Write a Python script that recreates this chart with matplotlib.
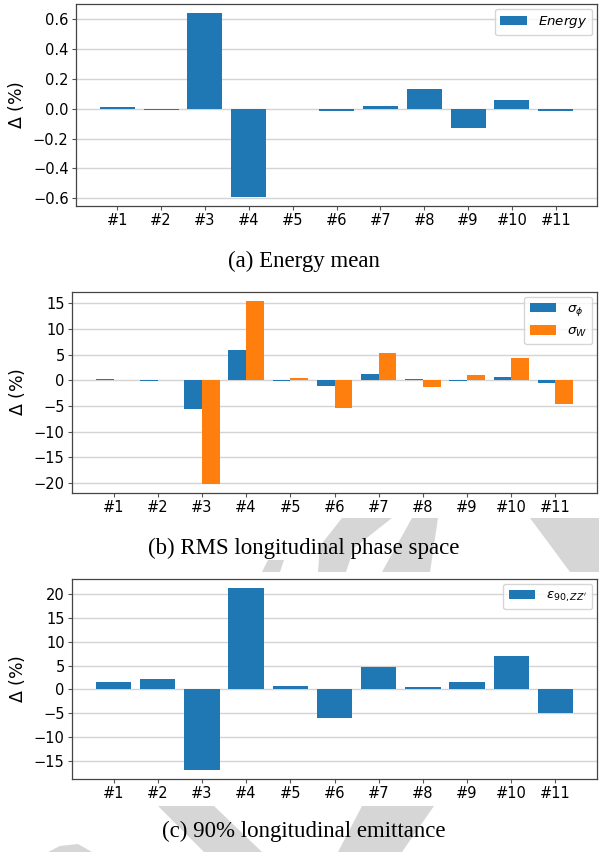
#!/usr/bin/env python3
"""
Relative deviation (Delta, %) of beam quantities for the 11 error cases:
energy mean, RMS longitudinal phase space and 90% longitudinal emittance.
Writes out.png.
"""

import matplotlib
matplotlib.use("Agg")
import matplotlib.pyplot as plt
from matplotlib.patches import Polygon
import numpy as np

# ---------------------------------------------------------------------------
# Data
# ---------------------------------------------------------------------------
runs = ["#1", "#2", "#3", "#4", "#5", "#6", "#7", "#8", "#9", "#10", "#11"]

energy_mean = [0.01, -0.01, 0.64, -0.59, 0.0, -0.018, 0.02, 0.133, -0.13,
               0.06, -0.018]

sigma_phi = [0.2, -0.05, -5.65, 5.9, -0.05, -1.04, 1.17, 0.25, -0.05,
             0.71, -0.52]
sigma_w = [0.0, 0.0, -20.2, 15.45, 0.45, -5.4, 5.3, -1.36, 1.04,
           4.35, -4.55]

emit_90 = [1.53, 2.2, -16.9, 21.3, 0.76, -6.04, 4.8, 0.56, 1.53, 7.0, -5.0]

captions = ["(a) Energy mean",
            "(b) RMS longitudinal phase space",
            "(c) 90% longitudinal emittance"]

BLUE = "#1f77b4"
ORANGE = "#ff7f0e"
WATERMARK = "#d6d6d6"

W, H = 599, 852

# pieces of the grey "draft" watermark that show between the panels (pixels)
watermark_px = [
    [(342, 518), (392, 518), (354, 548), (346, 572), (318, 572), (320, 546)],
    [(262, 572), (280, 572), (284, 560), (268, 560)],
    [(412, 518), (438, 518), (430, 572), (382, 572)],
    [(530, 518), (599, 518), (599, 572), (570, 572)],
    [(158, 806), (214, 806), (262, 852), (204, 852)],
    [(362, 806), (434, 806), (402, 852), (338, 852)],
    [(48, 852), (60, 846), (78, 844), (92, 852)],
]


def px_axes(left, top, right, bottom):
    """pixel box (origin top-left) -> figure-fraction rect"""
    return [left / W, 1 - bottom / H, (right - left) / W, (bottom - top) / H]


def style_axes(ax):
    ax.set_axisbelow(True)
    ax.yaxis.grid(True, color="#d4d4d4", linewidth=1.0)
    ax.xaxis.grid(False)
    for sp in ax.spines.values():
        sp.set_color("#444444")
        sp.set_linewidth(0.9)
    ax.tick_params(axis="both", labelsize=10.5, length=2.8, width=0.8,
                   pad=2.5, color="#555555")
    ax.set_ylabel(r"$\Delta$ (%)", fontsize=12.5, labelpad=5)
    ax.set_xticks(np.arange(len(runs)))
    ax.set_xticklabels(runs)


def add_legend(ax):
    ax.legend(loc="upper right", fontsize=9.6, borderaxespad=0.35)


fig = plt.figure(figsize=(W / 100, H / 100), dpi=100)

for pts in watermark_px:
    fig.patches.append(Polygon([(px / W, 1 - py / H) for px, py in pts],
                               closed=True, transform=fig.transFigure,
                               facecolor=WATERMARK, edgecolor="none",
                               zorder=-5))

# (a) energy mean
ax_a = fig.add_axes(px_axes(76, 4, 597, 206))
x = np.arange(len(runs))
ax_a.bar(x, energy_mean, width=0.8, color=BLUE, label=r"$Energy$")
style_axes(ax_a)
ax_a.set_yticks([-0.6, -0.4, -0.2, 0.0, 0.2, 0.4, 0.6])
add_legend(ax_a)

# (b) RMS longitudinal phase space
ax_b = fig.add_axes(px_axes(72, 292, 597, 493))
ax_b.bar(x - 0.2, sigma_phi, width=0.4, color=BLUE, label=r"$\sigma_\phi$")
ax_b.bar(x + 0.2, sigma_w, width=0.4, color=ORANGE, label=r"$\sigma_W$")
style_axes(ax_b)
ax_b.set_yticks([-20, -15, -10, -5, 0, 5, 10, 15])
add_legend(ax_b)

# (c) 90% longitudinal emittance
ax_c = fig.add_axes(px_axes(72, 579, 597, 779))
ax_c.bar(x, emit_90, width=0.8, color=BLUE,
         label=r"$\varepsilon_{90,ZZ'}$")
style_axes(ax_c)
ax_c.set_yticks([-15, -10, -5, 0, 5, 10, 15, 20])
add_legend(ax_c)

# sub-figure captions
for txt, ypx in zip(captions, [261, 548, 831]):
    fig.text(304 / W, 1 - ypx / H, txt, ha="center", va="center",
             family="Liberation Serif", fontsize=16.5)

fig.savefig("out.png", dpi=100)
plt.close(fig)
